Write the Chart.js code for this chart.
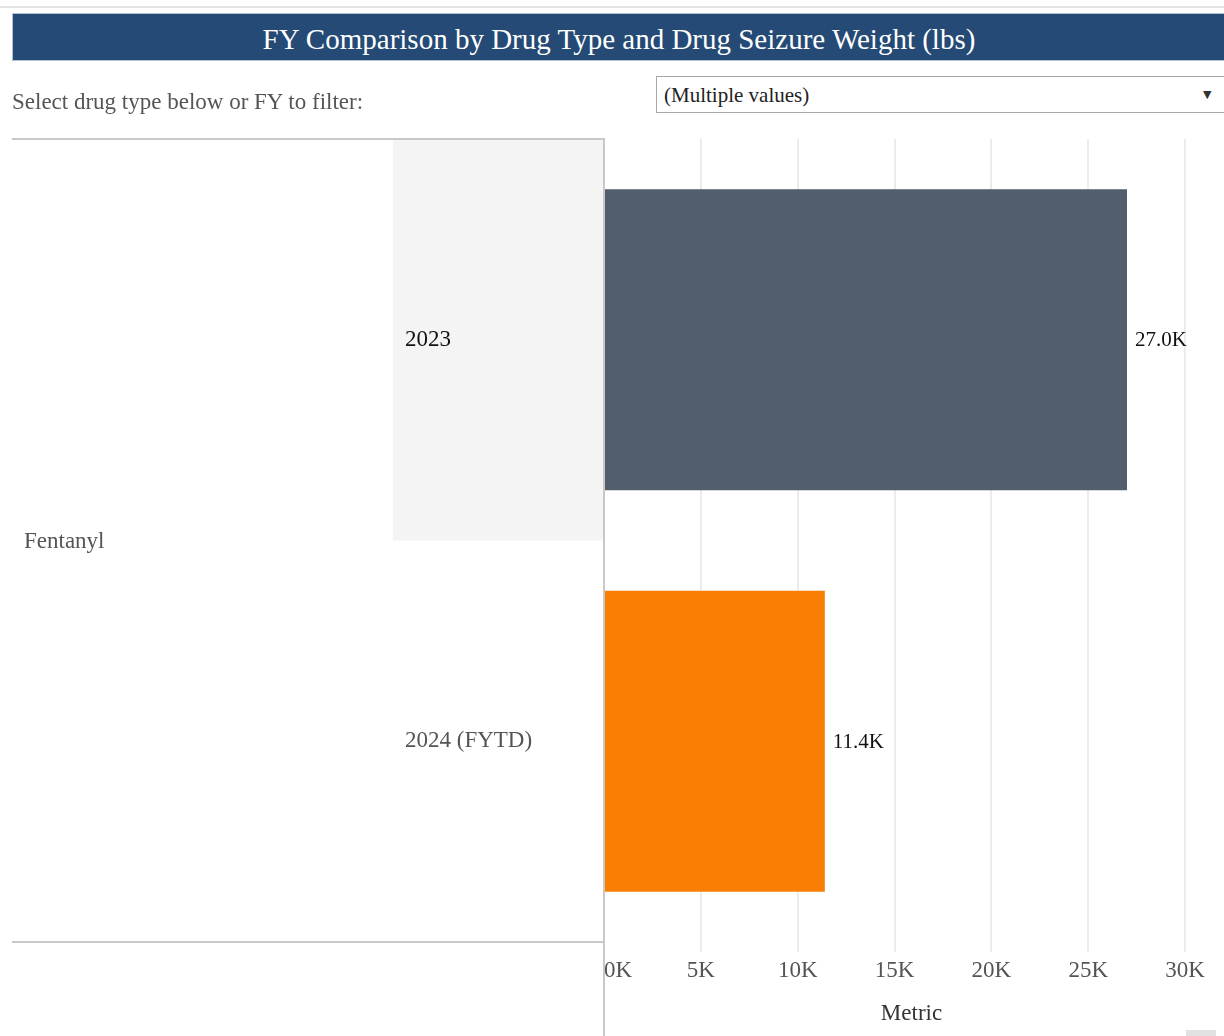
<!DOCTYPE html>
<html>
<head>
<meta charset="utf-8">
<script src="https://cdn.jsdelivr.net/npm/chart.js@4.4.1/dist/chart.umd.min.js"></script>
<style>
  html, body { margin: 0; padding: 0; background: #ffffff; }
  body { width: 1224px; height: 1036px; position: relative; overflow: hidden; font-family: "Liberation Serif", "Times New Roman", serif; }
  #chart { position: absolute; left: 0; top: 0; }
  .topline { position: absolute; left: 0; top: 6px; width: 1224px; height: 2px; background: #e4e4e4; }
  .titlebar { position: absolute; left: 12px; top: 13px; width: 1220px; height: 46px; background: #244a75; border: 1px solid #b3c2d3; color: #ffffff; font-size: 29px; line-height: 46px; text-align: center; box-sizing: content-box; }
  .titlebar span { position: absolute; left: 0; top: 2px; width: 1212px; text-align: center; }
  .filter { position: absolute; left: 12px; top: 87px; font-size: 23px; line-height: 30px; color: #555555; white-space: nowrap; }
  .dropdown { position: absolute; left: 656px; top: 76px; width: 600px; height: 35px; border: 1px solid #a8a8a8; background: #fff; }
  .dropdown .val { position: absolute; left: 7px; top: 5px; font-size: 21px; line-height: 26px; color: #222; white-space: nowrap; }
  .dropdown .arrow { position: absolute; left: 546px; top: 9px; font-family: "DejaVu Sans", sans-serif; font-size: 11px; line-height: 18px; color: #333; }
  .scrollstub { position: absolute; left: 1186px; top: 1030px; width: 30px; height: 6px; background: #e2e2e2; }
</style>
</head>
<body>
<canvas id="chart" width="1224" height="1036"></canvas>
<div class="topline"></div>
<div class="titlebar"><span>FY Comparison by Drug Type and Drug Seizure Weight (lbs)</span></div>
<div class="filter">Select drug type below or FY to filter:</div>
<div class="dropdown"><div class="val">(Multiple values)</div><div class="arrow">▼</div></div>
<div class="scrollstub"></div>
<script>
// ---- data ----
const groupLabel = 'Fentanyl';
const fiscalYears = ['2023', '2024 (FYTD)'];
const seizureWeightLbs = [27000, 11400];
const barColors = ['#525e6b', '#f87e04'];
const xTickValues = [0, 5000, 10000, 15000, 20000, 25000, 30000];
const xAxisMax = 31750;
const xAxisTitle = 'Metric';

const SERIF = '"Liberation Serif", "Times New Roman", serif';

function fmtK(v, digits) { return (v / 1000).toFixed(digits) + 'K'; }

const framePlugin = {
  id: 'frame',
  beforeDraw(chart) {
    const ctx = chart.ctx;
    const y = chart.scales.y;
    const area = chart.chartArea;
    const c0 = y.getPixelForValue(0);
    const c1 = y.getPixelForValue(1);
    const half = (c1 - c0) / 2;
    ctx.save();
    ctx.fillStyle = '#f4f4f4';
    ctx.fillRect(y.left - 12, c0 - half + 1, area.left - (y.left - 12) - 1, 2 * half - 1);
    ctx.restore();
  },
  afterDraw(chart) {
    const ctx = chart.ctx;
    const area = chart.chartArea;
    ctx.save();
    ctx.strokeStyle = '#c8c8c8';
    ctx.lineWidth = 2;
    ctx.beginPath();
    ctx.moveTo(12, area.top); ctx.lineTo(area.left, area.top);
    ctx.moveTo(12, area.bottom); ctx.lineTo(area.left, area.bottom);
    ctx.moveTo(area.left, area.top - 1); ctx.lineTo(area.left, chart.height);
    ctx.stroke();
    // group label
    ctx.fillStyle = '#555555';
    ctx.font = '23px ' + SERIF;
    ctx.textAlign = 'left';
    ctx.textBaseline = 'middle';
    ctx.fillText(groupLabel, 24, (area.top + area.bottom) / 2 + 1);
    // value labels
    const meta = chart.getDatasetMeta(0);
    ctx.fillStyle = '#111111';
    ctx.font = '21px ' + SERIF;
    meta.data.forEach((bar, i) => {
      ctx.fillText(fmtK(seizureWeightLbs[i], 1), bar.x + 8, bar.y + 1);
    });
    ctx.restore();
  }
};

new Chart(document.getElementById('chart'), {
  type: 'bar',
  data: {
    labels: fiscalYears,
    datasets: [{
      data: seizureWeightLbs,
      backgroundColor: barColors,
      borderWidth: 0,
      barPercentage: 0.75,
      categoryPercentage: 1.0
    }]
  },
  options: {
    indexAxis: 'y',
    responsive: false,
    animation: false,
    layout: { padding: { top: 139, left: 405, right: 0, bottom: 0 } },
    plugins: { legend: { display: false }, tooltip: { enabled: false }, title: { display: false } },
    scales: {
      x: {
        type: 'linear',
        min: 0,
        max: xAxisMax,
        afterBuildTicks(scale) {
          scale.ticks = xTickValues.concat([xAxisMax]).map(v => ({ value: v }));
        },
        afterFit(scale) { scale.height = 94; },
        grid: {
          color: (c) => (c.tick && (c.tick.value === 0 || c.tick.value === xAxisMax)) ? 'rgba(0,0,0,0)' : '#ececec',
          lineWidth: 2,
          drawTicks: true,
          tickLength: 10
        },
        border: { display: false },
        ticks: {
          autoSkip: false,
          maxRotation: 0,
          align: 'inner',
          padding: 5,
          color: '#555555',
          font: { family: SERIF, size: 23 },
          callback: (v) => xTickValues.includes(v) ? fmtK(v, 0) : ''
        },
        title: {
          display: true,
          text: xAxisTitle,
          color: '#333333',
          font: { family: SERIF, size: 23 },
          padding: { top: 0, bottom: 8 }
        }
      },
      y: {
        type: 'category',
        afterFit(scale) { scale.width = 199; },
        grid: { display: false },
        border: { display: false },
        ticks: {
          crossAlign: 'far',
          padding: 0,
          color: (c) => c.index === 0 ? '#111111' : '#555555',
          font: { family: SERIF, size: 23 }
        }
      }
    }
  },
  plugins: [framePlugin]
});
</script>
</body>
</html>
